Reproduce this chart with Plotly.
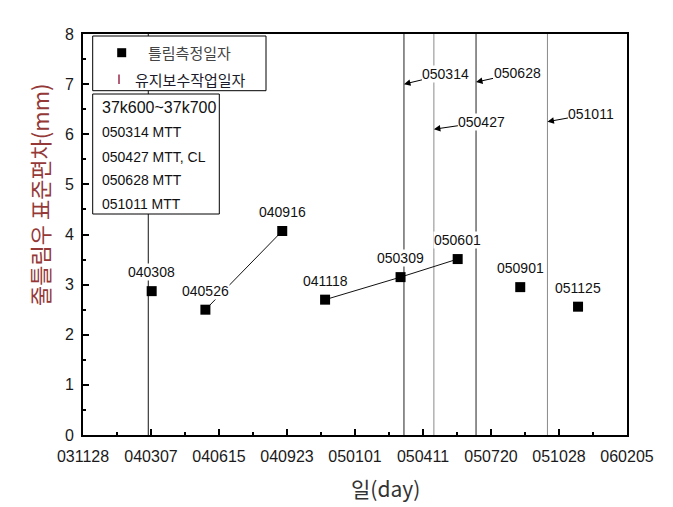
import datetime
import plotly.graph_objects as go

# ---------------- data ----------------
tick_labels = ['031128', '040307', '040615', '040923', '050101',
               '050411', '050720', '051028', '060205']

meas_labels = ['040308', '040526', '040916', '041118',
               '050309', '050601', '050901', '051125']
meas_values = [2.87, 2.50, 4.07, 2.70, 3.15, 3.51, 2.95, 2.56]
meas_group = [0, 1, 1, 2, 2, 2, 3, 4]   # points joined by a line share a group

maint_labels = ['050314', '050427', '050628', '051011']
maint_arrow_y = [7.0, 6.1, 7.04, 6.25]
extra_line_labels = ['040303']

box_title = '37k600~37k700'
box_lines = ['050314 MTT', '050427 MTT, CL', '050628 MTT', '051011 MTT']

legend_meas = '틀림측정일자'
legend_maint = '유지보수작업일자'
y_title = '줄틀림우 표준편차(mm)'
x_title = '일(day)'


def d(s):
    return datetime.date(2000 + int(s[:2]), int(s[2:4]), int(s[4:])).isoformat()


FONT = 'Liberation Sans, Arial, Noto Sans CJK KR, sans-serif'
KFONT = 'Noto Sans CJK KR, Liberation Sans, sans-serif'

fig = go.Figure()

# connecting lines per group
groups = {}
for lab, v, g in zip(meas_labels, meas_values, meas_group):
    groups.setdefault(g, []).append((d(lab), v))
for g, pts in groups.items():
    if len(pts) > 1:
        fig.add_trace(go.Scatter(x=[p[0] for p in pts], y=[p[1] for p in pts],
                                 mode='lines', line=dict(color='#111', width=1),
                                 showlegend=False, hoverinfo='skip'))

fig.add_trace(go.Scatter(x=[d(s) for s in meas_labels], y=meas_values,
                         mode='markers',
                         marker=dict(symbol='square', size=10, color='black'),
                         showlegend=False))

shapes = []
# vertical lines
line_colors = ['#222', '#8a8a8a', '#222', '#8a8a8a']
for lab, col in zip(maint_labels, line_colors):
    shapes.append(dict(type='line', xref='x', yref='y', x0=d(lab), x1=d(lab),
                       y0=0, y1=8, line=dict(color=col, width=1), layer='below'))
for lab in extra_line_labels:
    shapes.append(dict(type='line', xref='x', yref='y', x0=d(lab), x1=d(lab),
                       y0=0, y1=8, line=dict(color='#111', width=1), layer='below'))

W0, H0, PW, PH = 83, 34, 544, 401


def px(x):
    return (x - W0) / PW


def py(y):
    return (H0 + PH - y) / PH


# legend box
shapes.append(dict(type='rect', xref='paper', yref='paper',
                   x0=px(92.7), x1=px(266), y0=py(90.7), y1=py(36),
                   fillcolor='white', line=dict(color='black', width=1), layer='above'))
shapes.append(dict(type='rect', xref='paper', yref='paper',
                   x0=px(117.2), x1=px(126.2), y0=py(57.2), y1=py(48.2),
                   fillcolor='black', line=dict(color='black', width=0), layer='above'))
shapes.append(dict(type='line', xref='paper', yref='paper',
                   x0=px(119), x1=px(119), y0=py(84), y1=py(74.5),
                   line=dict(color='#9b2a4a', width=1.5), layer='above'))
# info box
shapes.append(dict(type='rect', xref='paper', yref='paper',
                   x0=px(92.7), x1=px(219.3), y0=py(214), y1=py(94),
                   fillcolor='white', line=dict(color='black', width=1), layer='above'))

annotations = []
# point labels
for lab, v in zip(meas_labels, meas_values):
    annotations.append(dict(x=d(lab), y=v, text=lab, showarrow=False, yshift=19,
                            bgcolor='white', borderpad=0,
                            font=dict(family=FONT, size=14, color='#111')))
# maintenance arrows
arrow_off = [(42, -10), (48, -7), (41, -9), (44, -8)]
for lab, yv, (ax, ay) in zip(maint_labels, maint_arrow_y, arrow_off):
    annotations.append(dict(x=d(lab), y=yv, text=lab, showarrow=True,
                            ax=ax, ay=ay, arrowhead=2, arrowsize=1.3, arrowwidth=1,
                            arrowcolor='black', bgcolor='white', borderpad=0,
                            font=dict(family=FONT, size=14, color='#111')))
# legend texts
annotations.append(dict(xref='paper', yref='paper', x=px(146), y=py(52.7),
                        xanchor='left', yanchor='middle', showarrow=False,
                        text=legend_meas, font=dict(family=KFONT, size=15, color='#444')))
annotations.append(dict(xref='paper', yref='paper', x=px(133), y=py(79.3),
                        xanchor='left', yanchor='middle', showarrow=False,
                        text=legend_maint, font=dict(family=KFONT, size=15, color='#1a1a2a')))
# info box texts
annotations.append(dict(xref='paper', yref='paper', x=px(100), y=py(107.3),
                        xanchor='left', yanchor='middle', showarrow=False,
                        text=box_title, font=dict(family=FONT, size=16, color='#111')))
for t, yy in zip(box_lines, [131.7, 156.7, 180, 204]):
    annotations.append(dict(xref='paper', yref='paper', x=px(100), y=py(yy),
                            xanchor='left', yanchor='middle', showarrow=False,
                            text=t, font=dict(family=FONT, size=14, color='#111')))
# axis titles
annotations.append(dict(xref='paper', yref='paper', x=px(39), y=py(206),
                        xanchor='center', yanchor='middle', showarrow=False,
                        textangle=-90, text=y_title, yshift=11,
                        font=dict(family=KFONT, size=22, color='#943838')))
annotations.append(dict(xref='paper', yref='paper', x=px(385), y=py(488),
                        xanchor='center', yanchor='middle', showarrow=False,
                        text=x_title, font=dict(family=KFONT, size=21, color='#333')))

fig.update_layout(
    width=673, height=507,
    margin=dict(l=W0, r=673 - W0 - PW, t=H0, b=507 - H0 - PH),
    plot_bgcolor='white', paper_bgcolor='white',
    shapes=shapes, annotations=annotations, showlegend=False,
    xaxis=dict(type='date', range=[d(tick_labels[0]), d(tick_labels[-1])],
               tickmode='array', tickvals=[d(s) for s in tick_labels],
               ticktext=tick_labels, ticks='inside', ticklen=6, tickwidth=1.5,
               tickcolor='black', showline=True, linewidth=2, linecolor='black',
               mirror=True, showgrid=False, zeroline=False,
               ticklabelstandoff=6,
               tickfont=dict(family=FONT, size=16, color='#1a1a1a'),
               minor=dict(ticks='inside', ticklen=3, tickwidth=1.5, tickcolor='black',
                          tick0=d(tick_labels[0]), dtick=50 * 86400000, showgrid=False)),
    yaxis=dict(range=[0, 8], tickmode='linear', tick0=0, dtick=1,
               ticks='inside', ticklen=6, tickwidth=1.5, tickcolor='black',
               showline=True, linewidth=2, linecolor='black', mirror=True,
               showgrid=False, zeroline=False, ticklabelstandoff=4,
               tickfont=dict(family=FONT, size=16, color='#1a1a1a'),
               minor=dict(ticks='inside', ticklen=3, tickwidth=1.5, tickcolor='black',
                          dtick=0.5, showgrid=False)),
)

fig.write_html('out.html')
